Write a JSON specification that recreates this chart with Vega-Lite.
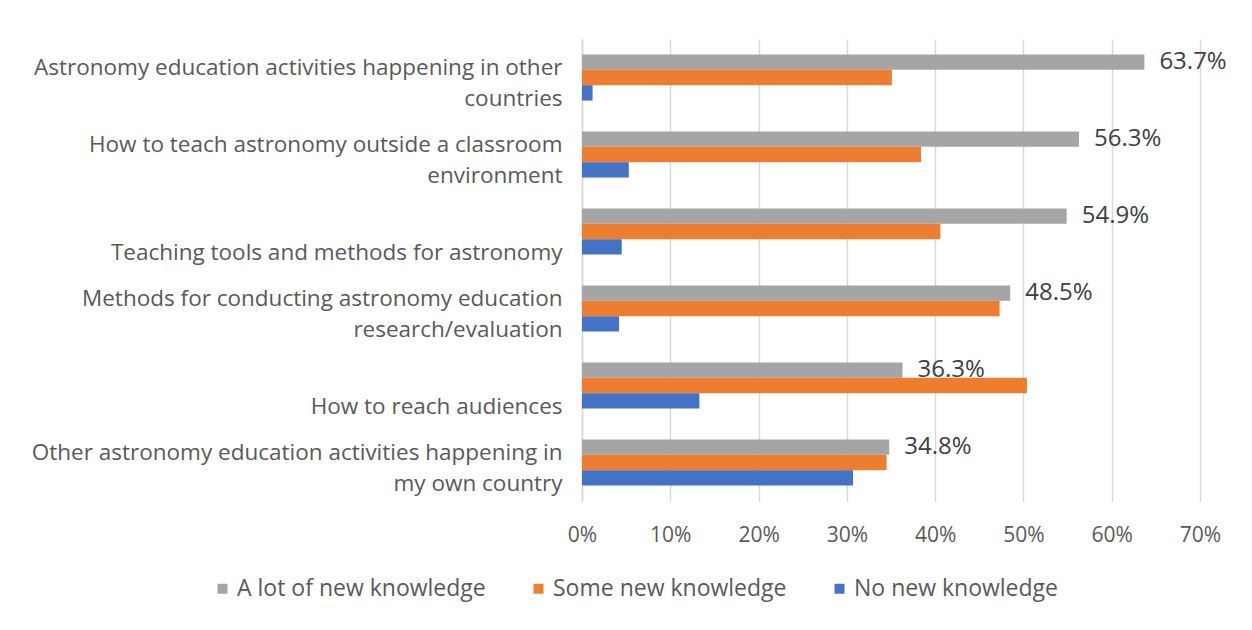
{
  "$schema": "https://vega.github.io/schema/vega-lite/v6.json",
  "autosize": "none",
  "width": 618,
  "height": 462,
  "padding": {"left": 582, "top": 39, "right": 52, "bottom": 129},
  "background": "white",
  "config": {
    "view": {"stroke": null},
    "font": "Open Sans",
    "axis": {"labelFont": "Open Sans", "labelColor": "#595959"},
    "legend": {"labelFont": "Open Sans", "labelColor": "#595959"}
  },
  "data": {
    "values": [
      {"topic": "Astronomy education activities happening in other countries", "response": "A lot of new knowledge", "share": 0.637},
      {"topic": "Astronomy education activities happening in other countries", "response": "Some new knowledge", "share": 0.351},
      {"topic": "Astronomy education activities happening in other countries", "response": "No new knowledge", "share": 0.012},
      {"topic": "How to teach astronomy outside a classroom environment", "response": "A lot of new knowledge", "share": 0.563},
      {"topic": "How to teach astronomy outside a classroom environment", "response": "Some new knowledge", "share": 0.384},
      {"topic": "How to teach astronomy outside a classroom environment", "response": "No new knowledge", "share": 0.053},
      {"topic": "Teaching tools and methods for astronomy", "response": "A lot of new knowledge", "share": 0.549},
      {"topic": "Teaching tools and methods for astronomy", "response": "Some new knowledge", "share": 0.406},
      {"topic": "Teaching tools and methods for astronomy", "response": "No new knowledge", "share": 0.045},
      {"topic": "Methods for conducting astronomy education research/evaluation", "response": "A lot of new knowledge", "share": 0.485},
      {"topic": "Methods for conducting astronomy education research/evaluation", "response": "Some new knowledge", "share": 0.473},
      {"topic": "Methods for conducting astronomy education research/evaluation", "response": "No new knowledge", "share": 0.042},
      {"topic": "How to reach audiences", "response": "A lot of new knowledge", "share": 0.363},
      {"topic": "How to reach audiences", "response": "Some new knowledge", "share": 0.504},
      {"topic": "How to reach audiences", "response": "No new knowledge", "share": 0.133},
      {"topic": "Other astronomy education activities happening in my own country", "response": "A lot of new knowledge", "share": 0.348},
      {"topic": "Other astronomy education activities happening in my own country", "response": "Some new knowledge", "share": 0.345},
      {"topic": "Other astronomy education activities happening in my own country", "response": "No new knowledge", "share": 0.307}
    ]
  },
  "encoding": {
    "y": {
      "field": "topic",
      "type": "nominal",
      "sort": null,
      "title": null,
      "scale": {"paddingInner": 0.4, "paddingOuter": 0.2},
      "axis": {
        "ticks": false,
        "domain": true,
        "domainColor": "#d9d9d9",
        "domainWidth": 1.5,
        "labelFontSize": 22.5,
        "labelPadding": 20,
        "labelAlign": "right",
        "labelLineHeight": 31,
        "labelOffset": -10,
        "labelLimit": 600,
        "labelExpr": "datum.value == 'Astronomy education activities happening in other countries' ? ['Astronomy education activities happening in other', 'countries'] : datum.value == 'How to teach astronomy outside a classroom environment' ? ['How to teach astronomy outside a classroom', 'environment'] : datum.value == 'Methods for conducting astronomy education research/evaluation' ? ['Methods for conducting astronomy education', 'research/evaluation'] : datum.value == 'Other astronomy education activities happening in my own country' ? ['Other astronomy education activities happening in', 'my own country'] : ['', datum.value]"
      }
    },
    "yOffset": {
      "field": "response",
      "type": "nominal",
      "sort": ["A lot of new knowledge", "Some new knowledge", "No new knowledge"],
      "scale": {"paddingInner": 0, "paddingOuter": 0}
    },
    "x": {
      "field": "share",
      "type": "quantitative",
      "title": null,
      "scale": {"domain": [0, 0.7]},
      "axis": {
        "values": [0, 0.1, 0.2, 0.3, 0.4, 0.5, 0.6, 0.7],
        "format": "%",
        "ticks": false,
        "domain": false,
        "grid": true,
        "gridColor": "#d9d9d9",
        "gridWidth": 1.5,
        "labelFlush": false,
        "labelFontSize": 21,
        "labelPadding": 23
      }
    }
  },
  "layer": [
    {
      "mark": {"type": "bar"},
      "encoding": {
        "color": {
          "field": "response",
          "type": "nominal",
          "sort": ["A lot of new knowledge", "Some new knowledge", "No new knowledge"],
          "scale": {
            "domain": ["A lot of new knowledge", "Some new knowledge", "No new knowledge"],
            "range": ["#A5A5A5", "#ED7D31", "#4472C4"]
          },
          "legend": {
            "title": null,
            "orient": "none",
            "direction": "horizontal",
            "legendX": -371,
            "legendY": 538,
            "symbolType": "square",
            "symbolSize": 100,
            "symbolStrokeWidth": 0,
            "labelFontSize": 23,
            "labelOffset": 3,
            "columnPadding": 41,
            "labelLimit": 400
          }
        }
      }
    },
    {
      "transform": [{"filter": "datum.response == 'A lot of new knowledge'"}],
      "mark": {"type": "text", "align": "left", "baseline": "middle", "dx": 15, "fontSize": 24, "color": "#404040", "font": "Open Sans"},
      "encoding": {
        "text": {"field": "share", "type": "quantitative", "format": ".1%"}
      }
    }
  ]
}
